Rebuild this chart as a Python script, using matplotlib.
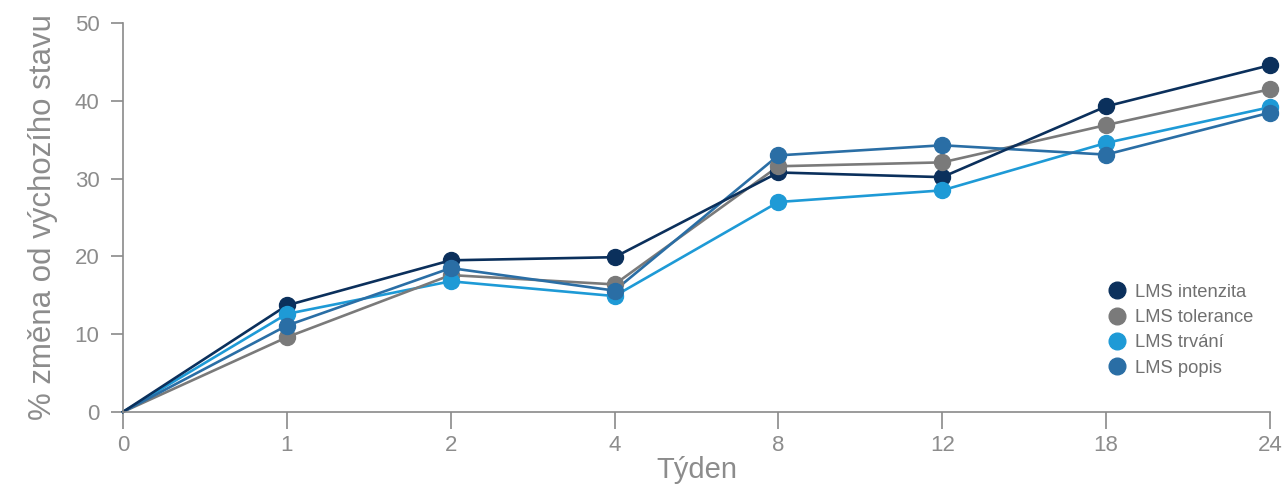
import matplotlib.pyplot as plt
from matplotlib.lines import Line2D

plt.rcParams["font.family"] = ["Liberation Sans", "DejaVu Sans"]

weeks = ["0", "1", "2", "4", "8", "12", "18", "24"]
intenzita = [0, 13.7, 19.5, 19.9, 30.8, 30.2, 39.3, 44.6]
tolerance = [0, 9.6, 17.6, 16.4, 31.6, 32.1, 36.9, 41.5]
trvani = [0, 12.6, 16.8, 14.9, 27.0, 28.5, 34.6, 39.2]
popis = [0, 11.1, 18.5, 15.6, 33.0, 34.3, 33.1, 38.5]

series = [
    ("LMS intenzita", intenzita, "#0b305c"),
    ("LMS tolerance", tolerance, "#7a7a7a"),
    ("LMS trvání", trvani, "#1e9ad6"),
    ("LMS popis", popis, "#2a6ea5"),
]

fig = plt.figure(figsize=(12.85, 4.84), dpi=100)
ax = fig.add_axes([0.0957, 0.149, 0.8926, 0.803])

x = list(range(len(weeks)))
draw_order = [2, 1, 3, 0]
for i in draw_order:
    name, vals, col = series[i]
    ax.plot(x[1:], vals[1:], "o", color=col, markersize=11.5, clip_on=False, zorder=3 + i * 0.1)
    ax.plot(x, vals, "-", color=col, linewidth=1.9, clip_on=False, zorder=2)

ax.set_xlim(0, len(weeks) - 1)
ax.set_ylim(0, 50)
ax.set_xticks(x)
ax.set_xticklabels(weeks)
ax.set_yticks(range(0, 51, 10))

gray = "#8a8a8a"
txt = "#8c8c8c"
for s in ["top", "right"]:
    ax.spines[s].set_visible(False)
for s in ["left", "bottom"]:
    ax.spines[s].set_color(gray)
    ax.spines[s].set_linewidth(1.2)
ax.tick_params(axis="y", colors=gray, labelsize=16, length=9, width=1.2, pad=8)
ax.tick_params(axis="x", colors=gray, labelsize=16, length=12, width=1.2, pad=5)
for lab in ax.get_xticklabels() + ax.get_yticklabels():
    lab.set_color(txt)

ax.set_xlabel("Týden", fontsize=21, color=txt, labelpad=0)
ax.set_ylabel("% změna od výchozího stavu", fontsize=22.5, color=txt, labelpad=12)

handles = [Line2D([], [], marker="o", linestyle="", color=c, markersize=12) for _, _, c in series]
leg = ax.legend(handles, [s[0] for s in series], loc="lower right",
                bbox_to_anchor=(0.992, 0.072), frameon=False, fontsize=13.2,
                handletextpad=0.0, labelspacing=0.45, borderaxespad=0)
for t in leg.get_texts():
    t.set_color("#707070")

fig.savefig("out.png", dpi=100)
